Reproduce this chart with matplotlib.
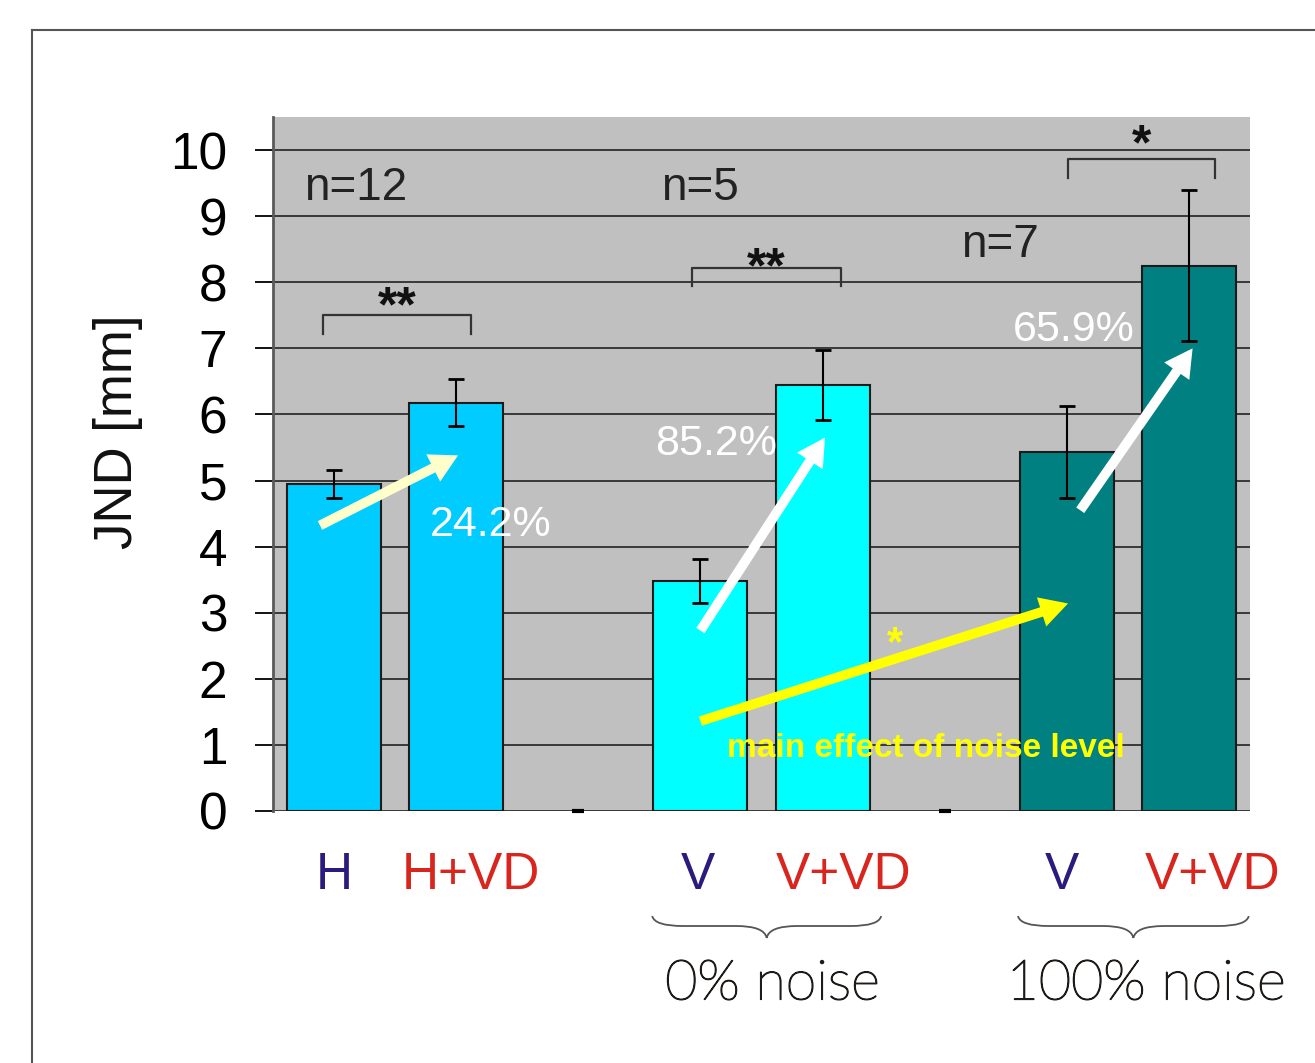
import matplotlib
matplotlib.use("Agg")
import matplotlib.pyplot as plt
import matplotlib.patheffects as pe
from matplotlib.path import Path
from matplotlib.patches import PathPatch
from matplotlib.lines import Line2D

plt.rcParams['font.family'] = ['Liberation Sans', 'DejaVu Sans']

# bar data (slots 2 and 5 are left empty between the groups)
slots = [0, 1, 3, 4, 6, 7]
gap_slots = [2, 5]
jnd_mean = [4.95, 6.18, 3.48, 6.45, 5.43, 8.25]
jnd_err = [0.21, 0.36, 0.33, 0.53, 0.69, 1.14]
bar_colors = ['#00CCFF', '#00CCFF', '#00FFFF', '#00FFFF', '#008080', '#008080']
cond_labels = ['H', 'H+VD', 'V', 'V+VD', 'V', 'V+VD']
cond_colors = ['#2B1B7C', '#D8261E', '#2B1B7C', '#D8261E', '#2B1B7C', '#D8261E']
n_labels = ['n=12', 'n=5', 'n=7']
n_pos = [(0.25, 9.42), (3.18, 9.42), (5.63, 8.57)]
pct_labels = ['24.2%', '85.2%', '65.9%']
pct_pos = [(1.78, 4.33), (3.63, 5.56), (6.56, 7.27)]
noise_labels = ['0% noise', '100% noise']
noise_x = [4.09, 7.15]

fig = plt.figure(figsize=(13.15, 10.63), dpi=100)
ax = fig.add_axes([273 / 1315, 1 - 811 / 1063, 977 / 1315, 694 / 1063])
ax.set_facecolor('#C0C0C0')

x = [s + 0.5 for s in slots]
ax.bar(x, jnd_mean, width=0.77, color=bar_colors, edgecolor='#1a1a1a',
       linewidth=1.5, zorder=3)
ax.errorbar(x, jnd_mean, yerr=jnd_err, fmt='none', ecolor='black',
            elinewidth=1.5, capsize=6, capthick=2, zorder=4)
ax.hlines([0] * len(gap_slots), [g + 0.45 for g in gap_slots],
          [g + 0.55 for g in gap_slots], colors='black', linewidth=3,
          zorder=4, clip_on=False)

ax.set_xlim(0, 8)
ax.set_ylim(0, 10.5)
ax.set_yticks(range(0, 11))
ax.set_xticks([])
ax.yaxis.grid(True, color='#2e2e2e', linewidth=1.3)
ax.set_axisbelow(True)
ax.tick_params(axis='y', direction='out', length=13, width=1.3,
               labelsize=37, pad=20, color='black')
for side in ['top', 'right', 'bottom']:
    ax.spines[side].set_visible(False)
ax.spines['left'].set_color('#5a5a5a')
ax.spines['left'].set_linewidth(2)

ax.text(-0.159, 0.547, 'JND [mm]', transform=ax.transAxes, rotation=90,
        ha='center', va='center', fontsize=38, color='#111111')

for lbl, (lx, ly) in zip(n_labels, n_pos):
    ax.text(lx, ly, lbl, fontsize=33, color='#222222', ha='left', va='center')

# significance brackets: x0, x1, bar top, leg end, star baseline, stars
brackets = [(0.41, 1.62, 7.51, 7.21, 7.41, '**'),
            (3.43, 4.65, 8.21, 7.94, 8.0, '**'),
            (6.51, 7.71, 9.87, 9.58, 9.86, '*')]
for x0, x1, ytop, yleg, ystar, star in brackets:
    ax.plot([x0, x0, x1, x1], [yleg, ytop, ytop, yleg], color='#333333',
            linewidth=1.6, zorder=5)
    ax.text((x0 + x1) / 2, ystar, star, ha='center', va='baseline',
            fontsize=36, fontweight='bold', color='#111111')

# change arrows
arrows = [((0.385, 4.32), (1.515, 5.38), '#FFFFCC'),
          ((3.50, 2.73), (4.52, 5.65), 'white'),
          ((6.61, 4.55), (7.53, 7.00), 'white'),
          ((3.50, 1.36), (6.51, 3.14), '#FFFF00')]
for tail, tip, col in arrows:
    ax.annotate('', xy=tip, xytext=tail,
                arrowprops=dict(facecolor=col, edgecolor='none', width=7,
                                headwidth=22, headlength=20, shrink=0),
                zorder=6)

for lbl, (px, py) in zip(pct_labels, pct_pos):
    ax.text(px, py, lbl, fontsize=31, color='white', ha='center', va='center',
            zorder=7)

ax.text(5.09, 2.36, '*', fontsize=30, fontweight='bold', color='#FFFF00',
        ha='center', va='baseline', zorder=7)
ax.text(5.35, 0.95, 'main effect of noise level', fontsize=24,
        fontweight='bold', color='#FFFF00', ha='center', va='center', zorder=7)

# condition labels under the bars
label_x = [0.5, 1.62, 3.48, 4.67, 6.46, 7.69]
for lx, lbl, col in zip(label_x, cond_labels, cond_colors):
    ax.text(lx, -0.98, lbl, fontsize=37, color=col, ha='center', va='center',
            clip_on=False)


def brace(xl, xr, yt, ym, yb):
    xc = (xl + xr) / 2
    d = 0.25
    verts = [(xl, yt), (xl + 0.02, ym), (xl + d, ym),
             (xc - d, ym),
             (xc - 0.02, ym), (xc, yb),
             (xc + 0.02, ym), (xc + d, ym),
             (xr - d, ym),
             (xr - 0.02, ym), (xr, yt)]
    codes = [Path.MOVETO, Path.CURVE3, Path.CURVE3, Path.LINETO,
             Path.CURVE3, Path.CURVE3, Path.CURVE3, Path.CURVE3,
             Path.LINETO, Path.CURVE3, Path.CURVE3]
    return PathPatch(Path(verts, codes), facecolor='none', edgecolor='#555555',
                     linewidth=1.3, clip_on=False)


brace_spans = [(3.105, 4.98), (6.10, 7.99)]
for (bl, br), nx, lbl in zip(brace_spans, noise_x, noise_labels):
    ax.add_patch(brace(bl, br, -1.59, -1.74, -1.92))
    ax.text(nx, -2.62, lbl, fontsize=40, color='#1e1a18',
            ha='center', va='center', family=['Lato', 'DejaVu Sans'],
            fontweight='light', clip_on=False,
            path_effects=[pe.withStroke(linewidth=1.0, foreground='#1e1a18')])

# outer frame
fig.add_artist(Line2D([32 / 1315, 32 / 1315], [0, 1 - 30 / 1063],
                      transform=fig.transFigure, color='#555555', linewidth=1.5))
fig.add_artist(Line2D([32 / 1315, 1], [1 - 30 / 1063, 1 - 30 / 1063],
                      transform=fig.transFigure, color='#555555', linewidth=1.5))

fig.savefig('out.png', dpi=100)
